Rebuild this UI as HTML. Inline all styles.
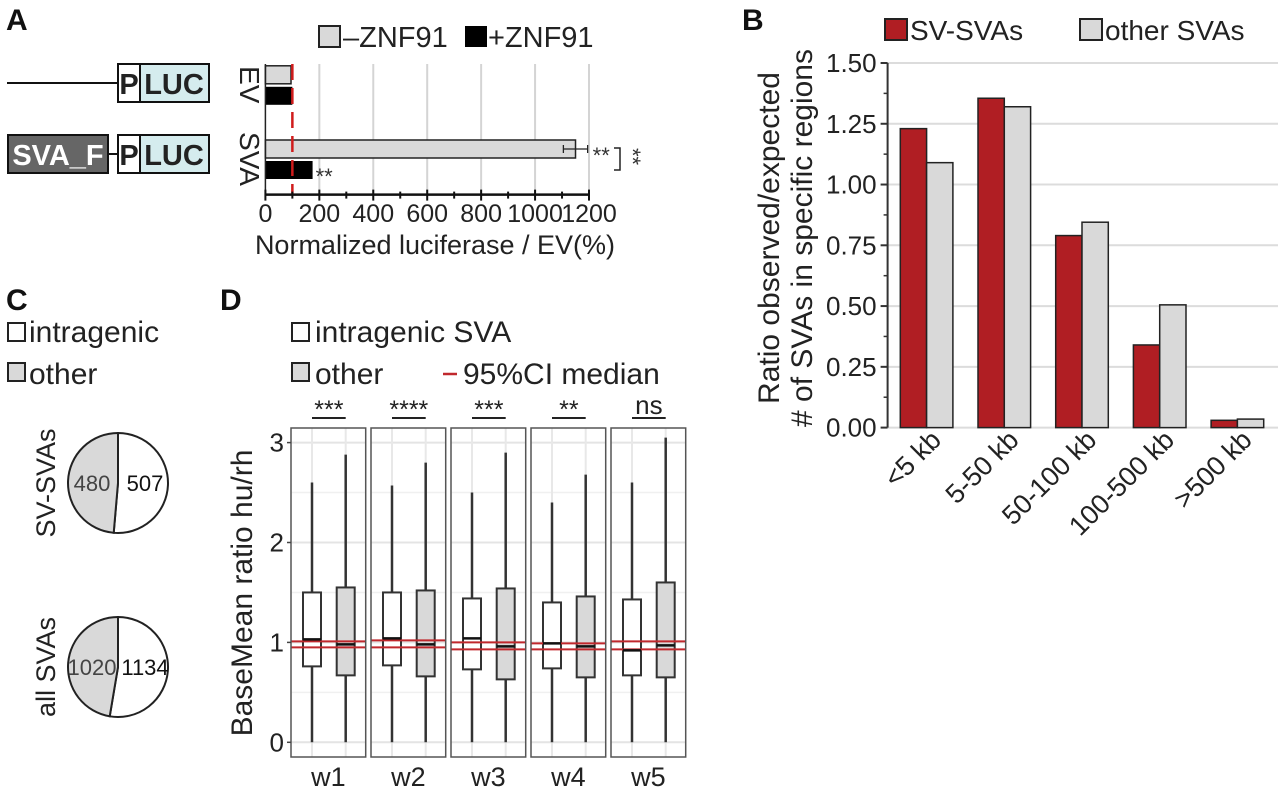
<!DOCTYPE html>
<html><head><meta charset="utf-8"><style>
html,body{margin:0;padding:0;background:#fff;}
svg{display:block;font-family:"Liberation Sans",Arial,sans-serif;}
</style></head><body>
<svg id="fig" width="1280" height="792" viewBox="0 0 1280 792" xmlns="http://www.w3.org/2000/svg">
<g font-weight="bold" font-size="30" fill="#111">
<text x="6" y="30">A</text>
<text x="742" y="30">B</text>
<text x="6" y="310">C</text>
<text x="220" y="310">D</text>
</g>
<g>
<line x1="7" y1="83" x2="118" y2="83" stroke="#111" stroke-width="2"/>
<rect x="118" y="64" width="22" height="38" fill="#fff" stroke="#111" stroke-width="2"/>
<rect x="140" y="64" width="69" height="38" fill="#d5ecee" stroke="#111" stroke-width="2"/>
<text x="129" y="94" font-size="29" font-weight="bold" text-anchor="middle" fill="#222">P</text>
<text x="174" y="94" font-size="29" font-weight="bold" text-anchor="middle" fill="#222">LUC</text>
</g>
<g>
<rect x="8" y="135" width="100" height="38" fill="#666" stroke="#111" stroke-width="2"/>
<text x="58" y="165" font-size="29" font-weight="bold" text-anchor="middle" fill="#fff">SVA_F</text>
<line x1="108" y1="154" x2="118" y2="154" stroke="#111" stroke-width="2"/>
<rect x="118" y="135" width="22" height="38" fill="#fff" stroke="#111" stroke-width="2"/>
<rect x="140" y="135" width="69" height="38" fill="#d5ecee" stroke="#111" stroke-width="2"/>
<text x="129" y="165" font-size="29" font-weight="bold" text-anchor="middle" fill="#222">P</text>
<text x="174" y="165" font-size="29" font-weight="bold" text-anchor="middle" fill="#222">LUC</text>
</g>
<g id="pA"></g>
<g id="pB"></g>
<g id="pC"></g>
<g id="pD"></g>
</svg>
<script>
// ---------- Panel A data ----------
const aCats = ['EV','SVA'];
const aMinus = [95, 1150];
const aPlus = [100, 175];
const aMinusErr = [5, 45];
const aPlusErr = [5, 0];
const aTicks = [0,200,400,600,800,1000,1200];
// ---------- Panel B data ----------
const bCats = ['<5 kb','5-50 kb','50-100 kb','100-500 kb','>500 kb'];
const bSV = [1.23, 1.355, 0.79, 0.34, 0.03];
const bOther = [1.09, 1.32, 0.845, 0.505, 0.035];
const bTicks = [0,0.25,0.5,0.75,1.0,1.25,1.5];
const bTickLabels = ['0.00','0.25','0.50','0.75','1.00','1.25','1.50'];
// ---------- Panel C data ----------
const cPies = ['SV-SVAs','all SVAs'];
const cIntragenic = [507, 1134];
const cOther = [480, 1020];
// ---------- Panel D data ----------
const dWindows = ['w1','w2','w3','w4','w5'];
const dSig = ['***','****','***','**','ns'];
const dIntraStats = [[0,0.76,1.03,1.5,2.6],[0,0.77,1.04,1.5,2.57],[0,0.73,1.04,1.44,2.5],[0,0.74,0.99,1.4,2.4],[0,0.67,0.92,1.43,2.6]];
const dOtherStats = [[0,0.67,0.98,1.55,2.88],[0,0.66,0.98,1.52,2.8],[0,0.63,0.96,1.54,2.9],[0,0.65,0.96,1.46,2.68],[0,0.65,0.97,1.6,3.05]];
const dCIhigh = [1.01,1.02,1.0,0.99,1.01];
const dCIlow = [0.95,0.95,0.93,0.93,0.93];
const dTicks = [0,1,2,3];

const NS='http://www.w3.org/2000/svg';
function mk(parent, tag, attrs, text){
  const e=document.createElementNS(NS,tag);
  for(const k in attrs) e.setAttribute(k,attrs[k]);
  if(text!==undefined) e.textContent=text;
  parent.appendChild(e); return e;
}

// ===== Panel A =====
(function(){
  const g=document.getElementById('pA');
  const x=v=>265.4+v*(323.6/1200);
  const top=64, bot=194.6;
  const rowTop=[65.8,140];
  aTicks.forEach((t,i)=>{ if(t>0){ const l=mk(g,'line',{x1:x(t),x2:x(t),y1:top,y2:bot,stroke:'#d4d4d4','stroke-width':2});
     }});
  aCats.forEach((c,i)=>{
    const y0=rowTop[i];
    const r1=mk(g,'rect',{x:x(0),y:y0,width:x(aMinus[i])-x(0),height:18,fill:'#d9d9d9',stroke:'#222','stroke-width':1.5});
     
    const r2=mk(g,'rect',{x:x(0),y:y0+21,width:x(aPlus[i])-x(0),height:18,fill:'#000'});
     
    if(aMinusErr[i]>8){
      const e=mk(g,'path',{d:`M${x(aMinus[i]-aMinusErr[i])},${y0+9}H${x(aMinus[i]+aMinusErr[i])}M${x(aMinus[i]-aMinusErr[i])},${y0+5}V${y0+13}M${x(aMinus[i]+aMinusErr[i])},${y0+5}V${y0+13}`,stroke:'#222','stroke-width':1.3,fill:'none'});
       
    }
    const lab=mk(g,'text',{x:0,y:0,'font-size':28,'text-anchor':'middle',fill:'#222',transform:`translate(240,${y0+19}) rotate(90)`},c);
     
  });
  mk(g,'line',{x1:x(100),x2:x(100),y1:top,y2:bot,stroke:'#d01c1c','stroke-width':2.5,'stroke-dasharray':'16,8'});
  mk(g,'line',{x1:x(0),x2:x(0),y1:top,y2:bot,stroke:'#222','stroke-width':1.5});
  mk(g,'line',{x1:x(0),x2:x(1200),y1:bot,y2:bot,stroke:'#111','stroke-width':2.5});
  for(let t=0;t<=1200;t+=100){
    const tk=mk(g,'line',{x1:x(t),x2:x(t),y1:bot-(t%200===0?5:3),y2:bot+(t%200===0?6:4),stroke:'#111','stroke-width':2});
     
  }
  aTicks.forEach(t=>{ const tl=mk(g,'text',{x:x(t),y:222,'font-size':25,'text-anchor':'middle',fill:'#222'},String(t));
     });
  const tt=mk(g,'text',{x:435,y:254,'font-size':27,'text-anchor':'middle',fill:'#222'},'Normalized luciferase / EV(%)');
   
  mk(g,'text',{x:x(aMinus[1]+aMinusErr[1])+5,y:163,'font-size':22,fill:'#333'},'**');
  mk(g,'text',{x:x(aPlus[1])+3,y:184,'font-size':22,fill:'#333'},'**');
  mk(g,'path',{d:'M614,148H620V170H614',stroke:'#222','stroke-width':1.5,fill:'none'});
  mk(g,'text',{x:0,y:0,'font-size':22,fill:'#333',transform:'translate(625,148) rotate(90)'},'**');
  mk(g,'rect',{x:319,y:26,width:21,height:21,fill:'#d9d9d9',stroke:'#222','stroke-width':2});
  mk(g,'text',{x:343,y:47,'font-size':29,fill:'#222'},'–ZNF91');
  mk(g,'rect',{x:465,y:26,width:22,height:21,fill:'#000'});
  mk(g,'text',{x:488,y:47,'font-size':29,fill:'#222'},'+ZNF91');
})();

// ===== Panel B =====
(function(){
  const g=document.getElementById('pB');
  const y=v=>427.6-v*(364.6/1.5);
  const ax=887.6, step=77.7, bw=26.3, first=900.3;
  bTicks.forEach((t,i)=>{
    if(t>0){const gl=mk(g,'line',{x1:ax,x2:1278,y1:y(t),y2:y(t),stroke:'#dcdcdc','stroke-width':2});
       }
    const tk=mk(g,'line',{x1:ax-7,x2:ax,y1:y(t),y2:y(t),stroke:'#333','stroke-width':2});
     
    const tl=mk(g,'text',{x:ax-11,y:y(t)+9,'font-size':26,'text-anchor':'end',fill:'#222'},bTickLabels[i]);
     
  });
  for(let i=0;i<6;i++){const mt=mk(g,'line',{x1:ax-4,x2:ax,y1:y(0.125+0.25*i),y2:y(0.125+0.25*i),stroke:'#333','stroke-width':1.5});
     }
  mk(g,'line',{x1:ax,x2:1278,y1:y(0),y2:y(0),stroke:'#dcdcdc','stroke-width':2});
  bCats.forEach((c,i)=>{
    const x0=first+i*step;
    const r=mk(g,'rect',{x:x0,y:y(bSV[i]),width:bw,height:y(0)-y(bSV[i]),fill:'#b01e23',stroke:'#222','stroke-width':1.5});
     
    const r2=mk(g,'rect',{x:x0+bw,y:y(bOther[i]),width:bw,height:y(0)-y(bOther[i]),fill:'#d9d9d9',stroke:'#222','stroke-width':1.5});
     
    const cx=x0+bw+4;
    const tl=mk(g,'text',{x:0,y:0,'font-size':27,'text-anchor':'end',fill:'#222',transform:`translate(${cx+12},${y(0)+14}) rotate(-45)`},c);
     
  });
  mk(g,'line',{x1:ax,x2:ax,y1:y(1.5),y2:y(0),stroke:'#333','stroke-width':2});
  const t1=mk(g,'text',{x:0,y:0,'font-size':30,'text-anchor':'middle',fill:'#222',transform:'translate(779,238) rotate(-90)'},'Ratio observed/expected');
   
  const t2=mk(g,'text',{x:0,y:0,'font-size':30,'text-anchor':'middle',fill:'#222',transform:'translate(812,238) rotate(-90)'},'# of SVAs in specific regions');
   
  mk(g,'rect',{x:885,y:19,width:22,height:21,fill:'#b01e23',stroke:'#222','stroke-width':2});
  mk(g,'text',{x:910,y:40,'font-size':28,fill:'#222'},'SV-SVAs');
  mk(g,'rect',{x:1080,y:19,width:22,height:21,fill:'#d9d9d9',stroke:'#222','stroke-width':2});
  mk(g,'text',{x:1105,y:40,'font-size':28,fill:'#222'},'other SVAs');
})();

// ===== Panel C =====
(function(){
  const g=document.getElementById('pC');
  mk(g,'rect',{x:8,y:323,width:17,height:18,fill:'#fff',stroke:'#222','stroke-width':2});
  mk(g,'text',{x:29,y:342,'font-size':30,fill:'#222'},'intragenic');
  mk(g,'rect',{x:8,y:363,width:17,height:18,fill:'#d9d9d9',stroke:'#222','stroke-width':2});
  mk(g,'text',{x:29,y:384,'font-size':30,fill:'#222'},'other');
  const centers=[483,667], cx=118, r=50;
  cPies.forEach((p,i)=>{
    const cy=centers[i], tot=cIntragenic[i]+cOther[i];
    const a=2*Math.PI*cIntragenic[i]/tot;
    const ex=cx+r*Math.sin(a), ey=cy-r*Math.cos(a);
    const w=mk(g,'path',{d:`M${cx},${cy}L${cx},${cy-r}A${r},${r} 0 ${a>Math.PI?1:0} 1 ${ex},${ey}Z`,fill:'#fff',stroke:'#222','stroke-width':2});
     
    const o=mk(g,'path',{d:`M${cx},${cy}L${ex},${ey}A${r},${r} 0 ${a>Math.PI?0:1} 1 ${cx},${cy-r}Z`,fill:'#d9d9d9',stroke:'#222','stroke-width':2});
     
    const l1=mk(g,'text',{x:cx+27,y:cy+8,'font-size':22,'text-anchor':'middle',fill:'#111'},String(cIntragenic[i]));
     
    const l2=mk(g,'text',{x:cx-26,y:cy+8,'font-size':22,'text-anchor':'middle',fill:'#444'},String(cOther[i]));
     
    const t=mk(g,'text',{x:0,y:0,'font-size':27,'text-anchor':'middle',fill:'#222',transform:`translate(55,${cy}) rotate(-90)`},p);
     
  });
})();

// ===== Panel D =====
(function(){
  const g=document.getElementById('pD');
  const y=v=>742.3-v*99.9;
  mk(g,'rect',{x:292,y:323,width:17,height:18,fill:'#fff',stroke:'#222','stroke-width':2});
  mk(g,'text',{x:315,y:342,'font-size':30,fill:'#222'},'intragenic SVA');
  mk(g,'rect',{x:292,y:363,width:17,height:18,fill:'#d9d9d9',stroke:'#222','stroke-width':2});
  mk(g,'text',{x:315,y:384,'font-size':30,fill:'#222'},'other');
  mk(g,'line',{x1:443,x2:457,y1:374,y2:374,stroke:'#c0282d','stroke-width':2.5});
  mk(g,'text',{x:463,y:384,'font-size':30,fill:'#222'},'95%CI median');
  const facetX=[291,371,451,531,611], fw=74.7, top=428, bot=757, bw=18;
  dWindows.forEach((w,i)=>{
    const fx=facetX[i], c1=fx+21, c2=fx+54.7;
    [0.5,1.5,2.5].forEach(v=>{const gl=mk(g,'line',{x1:fx,x2:fx+fw,y1:y(v),y2:y(v),stroke:'#f0f0f0','stroke-width':1.5});
       });
    dTicks.forEach(v=>{const gl=mk(g,'line',{x1:fx,x2:fx+fw,y1:y(v),y2:y(v),stroke:'#e4e4e4','stroke-width':2});
       });
    [c1,c2].forEach(c=>{const vl=mk(g,'line',{x1:c,x2:c,y1:top,y2:bot,stroke:'#e8e8e8','stroke-width':2});
       });
    [[c1,dIntraStats[i],'#fff','intragenic'],[c2,dOtherStats[i],'#d9d9d9','other']].forEach(([c,s,f,n])=>{
      const wh=mk(g,'line',{x1:c,x2:c,y1:y(s[4]),y2:y(s[0]),stroke:'#333','stroke-width':2.5});
       
      const bx=mk(g,'rect',{x:c-bw/2,y:y(s[3]),width:bw,height:y(s[1])-y(s[3]),fill:f,stroke:'#333','stroke-width':2});
       
    });
    [dCIhigh[i],dCIlow[i]].forEach(v=>{const cl=mk(g,'line',{x1:fx,x2:fx+fw,y1:y(v),y2:y(v),stroke:'#c0282d','stroke-width':2});
       });
    [[c1,dIntraStats[i]],[c2,dOtherStats[i]]].forEach(([c,s])=>{
      const md=mk(g,'line',{x1:c-bw/2,x2:c+bw/2,y1:y(s[2]),y2:y(s[2]),stroke:'#111','stroke-width':2.5});
       });
    const fr=mk(g,'rect',{x:fx,y:top,width:fw,height:bot-top,fill:'none',stroke:'#555','stroke-width':1.5});
     
    const xl=mk(g,'text',{x:fx+fw/2,y:786,'font-size':27,'text-anchor':'middle',fill:'#222'},w);
     
    const sl=mk(g,'line',{x1:c1,x2:c2,y1:418,y2:418,stroke:'#222','stroke-width':2});
     
    const st=mk(g,'text',{x:(c1+c2)/2,y:dSig[i]==='ns'?414:418,'font-size':dSig[i]==='ns'?26:25,'text-anchor':'middle',fill:'#222'},dSig[i]);
     
  });
  dTicks.forEach(v=>{
    const tk=mk(g,'line',{x1:287,x2:291,y1:y(v),y2:y(v),stroke:'#444','stroke-width':1.5});
     
    const tl=mk(g,'text',{x:284,y:y(v)+9,'font-size':26,'text-anchor':'end',fill:'#222'},String(v));
     
  });
  const yt=mk(g,'text',{x:0,y:0,'font-size':30,'text-anchor':'middle',fill:'#222',transform:'translate(252,593) rotate(-90)'},'BaseMean ratio hu/rh');
   
})();
</script>
</body></html>
